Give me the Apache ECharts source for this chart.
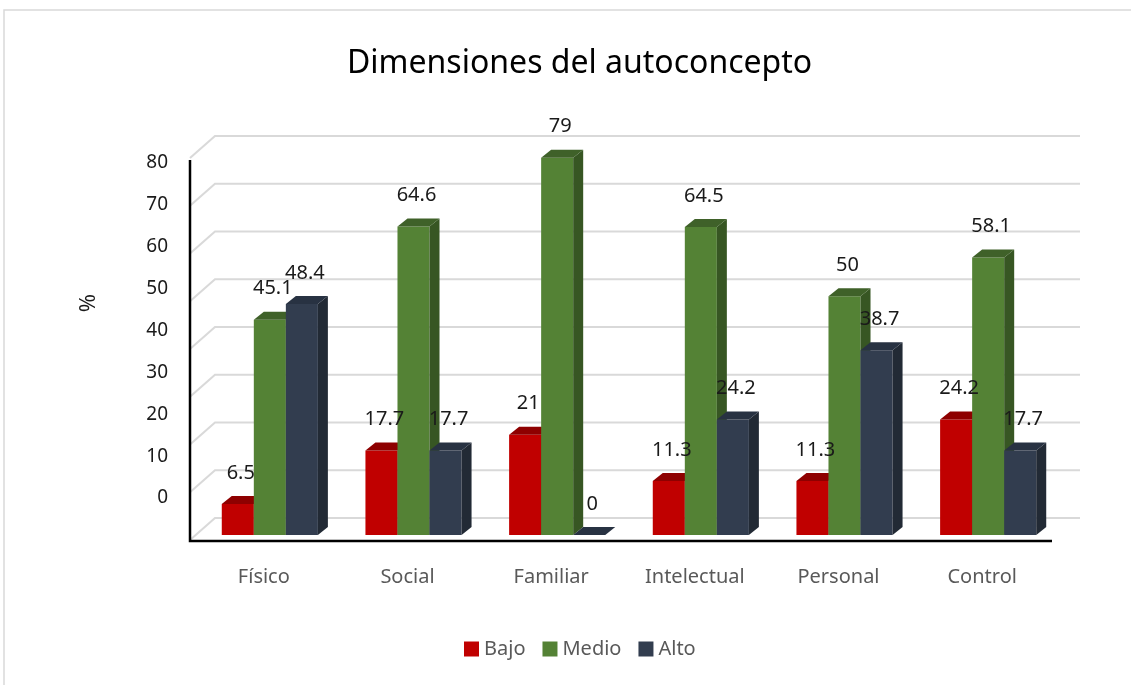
<!DOCTYPE html>
<html lang="es">

<head>
  <meta charset="UTF-8">
  <title>Dimensiones del autoconcepto</title>
  <style>
    html, body { margin: 0; padding: 0; background: #fff; }
  </style>
</head>

<body>
  <div id="main" style="width: 1131px;height:685px;"></div>

  <script src="https://cdn.jsdelivr.net/npm/echarts@6/dist/echarts.min.js"></script>
  <script>
  // datos
  const categories = ['Físico', 'Social', 'Familiar', 'Intelectual', 'Personal', 'Control'];
  const bajo = [6.5, 17.7, 21, 11.3, 11.3, 24.2];
  const medio = [45.1, 64.6, 79, 64.5, 50, 58.1];
  const alto = [48.4, 17.7, 0, 24.2, 38.7, 17.7];
  const yTicks = [0, 10, 20, 30, 40, 50, 60, 70, 80];

  const FONT = '"Noto Sans", "Open Sans", sans-serif';

  // colores: frente, techo, lado
  const faces = [
    ['#C00000', '#8E0000', '#7A0000'],
    ['#548235', '#3F6129', '#375623'],
    ['#323D4F', '#283242', '#222A35']
  ];

  const DX = 10, DY = -8;      // profundidad de cada barra
  const WX = 25, WY = -22;     // profundidad de la pared del fondo

  function barItem(k) {
    return function (params, api) {
      let cat = api.value(0);
      let val = api.value(1);
      let top = api.coord([cat, val]);
      let base = api.coord([cat, 0]);
      let band = api.size([1, 0])[0];
      let w = band * 0.223;
      let x0 = top[0] + (k - 1.5) * w;
      let yt = top[1], yb = base[1];
      let c = faces[k];
      return {
        type: 'group',
        children: [
          {
            type: 'rect', z2: k * 3 + 1,
            shape: { x: x0, y: yt, width: w, height: yb - yt },
            style: { fill: c[0] }
          },
          {
            type: 'polygon', z2: k * 3 + 2,
            shape: { points: [[x0 + w, yt], [x0 + w + DX, yt + DY], [x0 + w + DX, yb + DY], [x0 + w, yb]] },
            style: { fill: c[2] }
          },
          {
            type: 'polygon', z2: k * 3 + 3,
            shape: { points: [[x0, yt], [x0 + DX, yt + DY], [x0 + w + DX, yt + DY], [x0 + w, yt]] },
            style: { fill: c[1] }
          },
          {
            type: 'text', z2: 100,
            x: x0 + w / 2 + 3, y: yt - 31,
            style: {
              text: String(val), fill: '#1a1a1a', font: '20px ' + FONT,
              align: 'center', verticalAlign: 'middle'
            }
          }
        ]
      };
    };
  }

  function wallItem(params, api) {
    let v = api.value(1);
    let y = api.coord([0, v])[1];
    let cs = params.coordSys;
    let xl = cs.x - 8;
    let xr = cs.x + cs.width + 20;
    let children = [{
      type: 'polyline', z2: 0,
      shape: { points: [[xl, y + 5], [xl + WX, y + 5 + WY], [xr, y + 5 + WY]] },
      style: { stroke: '#D9D9D9', lineWidth: 2, fill: null }
    }];
    if (v === 0) {
      let yTop = api.coord([0, yTicks[yTicks.length - 1]])[1] + 7;
      children.push({
        type: 'polyline', z2: 1,
        shape: { points: [[xl, yTop], [xl, y + 6], [cs.x + cs.width - 8, y + 6]] },
        style: { stroke: '#000', lineWidth: 2.5, fill: null }
      });
    }
    return { type: 'group', children: children };
  }

  function pairs(arr) {
    return arr.map((v, i) => [i, v]);
  }

  let myChart = echarts.init(document.getElementById('main'));
  let option = {
    animation: false,
    backgroundColor: '#fff',
    title: {
      text: 'Dimensiones del autoconcepto',
      left: 342,
      top: 43,
      textStyle: { fontFamily: FONT, fontSize: 32, fontWeight: 'normal', color: '#000' }
    },
    legend: {
      data: ['Bajo', 'Medio', 'Alto'],
      left: 459,
      top: 634,
      icon: 'rect',
      itemWidth: 15,
      itemHeight: 15,
      itemGap: 17,
      textStyle: { fontFamily: FONT, fontSize: 20, color: '#595959' }
    },
    graphic: [
      {
        type: 'rect', silent: true,
        shape: { x: 4, y: 10, width: 1140, height: 700 },
        style: { fill: null, stroke: '#D9D9D9', lineWidth: 1.5 }
      },
      {
        type: 'text', silent: true,
        x: 89, y: 303, rotation: Math.PI / 2,
        style: { text: '%', font: '22px ' + FONT, fill: '#1a1a1a', align: 'center', verticalAlign: 'middle' }
      }
    ],
    grid: [
      { left: 198, right: 71, top: 153, bottom: 150 },
      { left: 190, width: 1, top: 163, bottom: 187 }
    ],
    xAxis: [
      {
        type: 'category',
        data: categories,
        gridIndex: 0,
        axisLine: { show: false },
        axisTick: { show: false },
        axisLabel: {
          margin: 32,
          padding: [0, 12, 0, 0],
          fontFamily: FONT, fontSize: 20, color: '#595959'
        }
      },
      { type: 'value', gridIndex: 1, show: false }
    ],
    yAxis: [
      { type: 'value', gridIndex: 0, min: 0, max: 80, interval: 10, show: false },
      {
        type: 'value', gridIndex: 1, min: 0, max: 80, interval: 10,
        axisLine: { show: false },
        axisTick: { show: false },
        splitLine: { show: false },
        axisLabel: { margin: 22, fontFamily: FONT, fontSize: 19, color: '#1a1a1a' }
      }
    ],
    series: [
      {
        type: 'custom', name: 'pared', silent: true,
        renderItem: wallItem,
        data: yTicks.map(v => [0, v]),
        z: 1
      },
      {
        type: 'custom', name: 'Bajo', renderItem: barItem(0),
        itemStyle: { color: faces[0][0] }, data: pairs(bajo), z: 2
      },
      {
        type: 'custom', name: 'Medio', renderItem: barItem(1),
        itemStyle: { color: faces[1][0] }, data: pairs(medio), z: 2
      },
      {
        type: 'custom', name: 'Alto', renderItem: barItem(2),
        itemStyle: { color: faces[2][0] }, data: pairs(alto), z: 2
      }
    ]
  };

  myChart.setOption(option);
  </script>
</body>

</html>
